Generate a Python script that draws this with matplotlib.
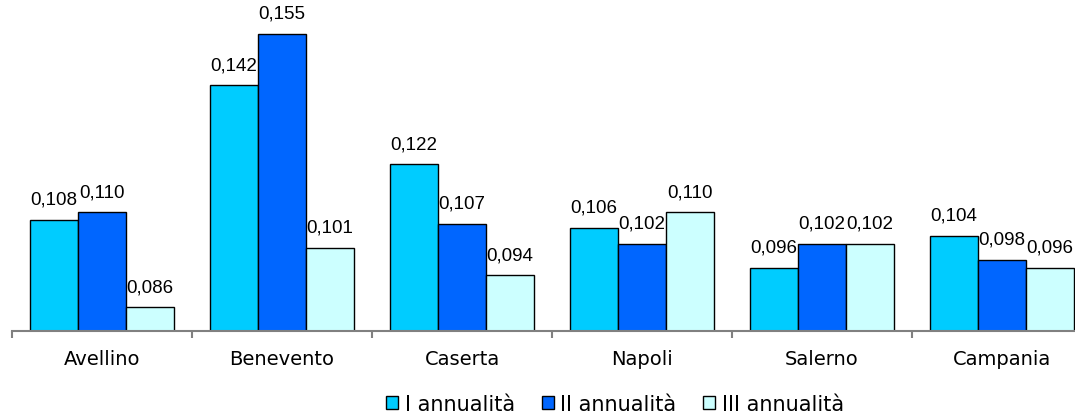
import numpy as np
import matplotlib
matplotlib.use("Agg")
import matplotlib.pyplot as plt

province = ["Avellino", "Benevento", "Caserta", "Napoli", "Salerno", "Campania"]
serie = ["I annualità", "II annualità", "III annualità"]
anno1 = [0.108, 0.142, 0.122, 0.106, 0.096, 0.104]
anno2 = [0.110, 0.155, 0.107, 0.102, 0.102, 0.098]
anno3 = [0.086, 0.101, 0.094, 0.110, 0.102, 0.096]
colori = ["#00CCFF", "#0066FF", "#CCFFFF"]

plt.rcParams["font.family"] = ["DejaVu Sans"]

fig = plt.figure(figsize=(10.75, 4.14), dpi=100)
ax = fig.add_axes([12 / 1075, 82 / 414, 1080 / 1075, 332 / 414])

x = np.arange(len(province))
w = 0.8 / 3
for i, vals in enumerate([anno1, anno2, anno3]):
    bars = ax.bar(x + (i - 1) * w, vals, w, color=colori[i], edgecolor="black",
                  linewidth=1.0, label=serie[i])
    for b, v in zip(bars, vals):
        ax.annotate(("%.3f" % v).replace(".", ","), (b.get_x() + b.get_width() / 2, v),
                    xytext=(0, 11.5), textcoords="offset points",
                    ha="center", va="baseline", fontsize=13.5,
                    family=["Liberation Sans", "DejaVu Sans"])

ax.set_xlim(-0.5, 5.5)
ax.set_ylim(0.08, 0.1637)
ax.set_xticks(x)
ax.set_xticklabels(province, fontsize=14)
ax.set_xticks(np.arange(-0.5, 6, 1), minor=True)
ax.tick_params(axis="x", which="major", length=0, pad=13)
ax.tick_params(axis="x", which="minor", length=5, color="#808080", width=1.5)
ax.set_yticks([])
for s in ["top", "right", "left"]:
    ax.spines[s].set_visible(False)
ax.spines["bottom"].set_color("#808080")
ax.spines["bottom"].set_linewidth(1.5)

fig.legend(loc="center", bbox_to_anchor=(615 / 1075, 1 - 405 / 414), ncol=3,
           frameon=False, fontsize=15, handlelength=0.58, handleheight=0.58,
           handletextpad=0.3, columnspacing=1.3, borderaxespad=0, borderpad=0)

fig.savefig("out.png", dpi=100)
